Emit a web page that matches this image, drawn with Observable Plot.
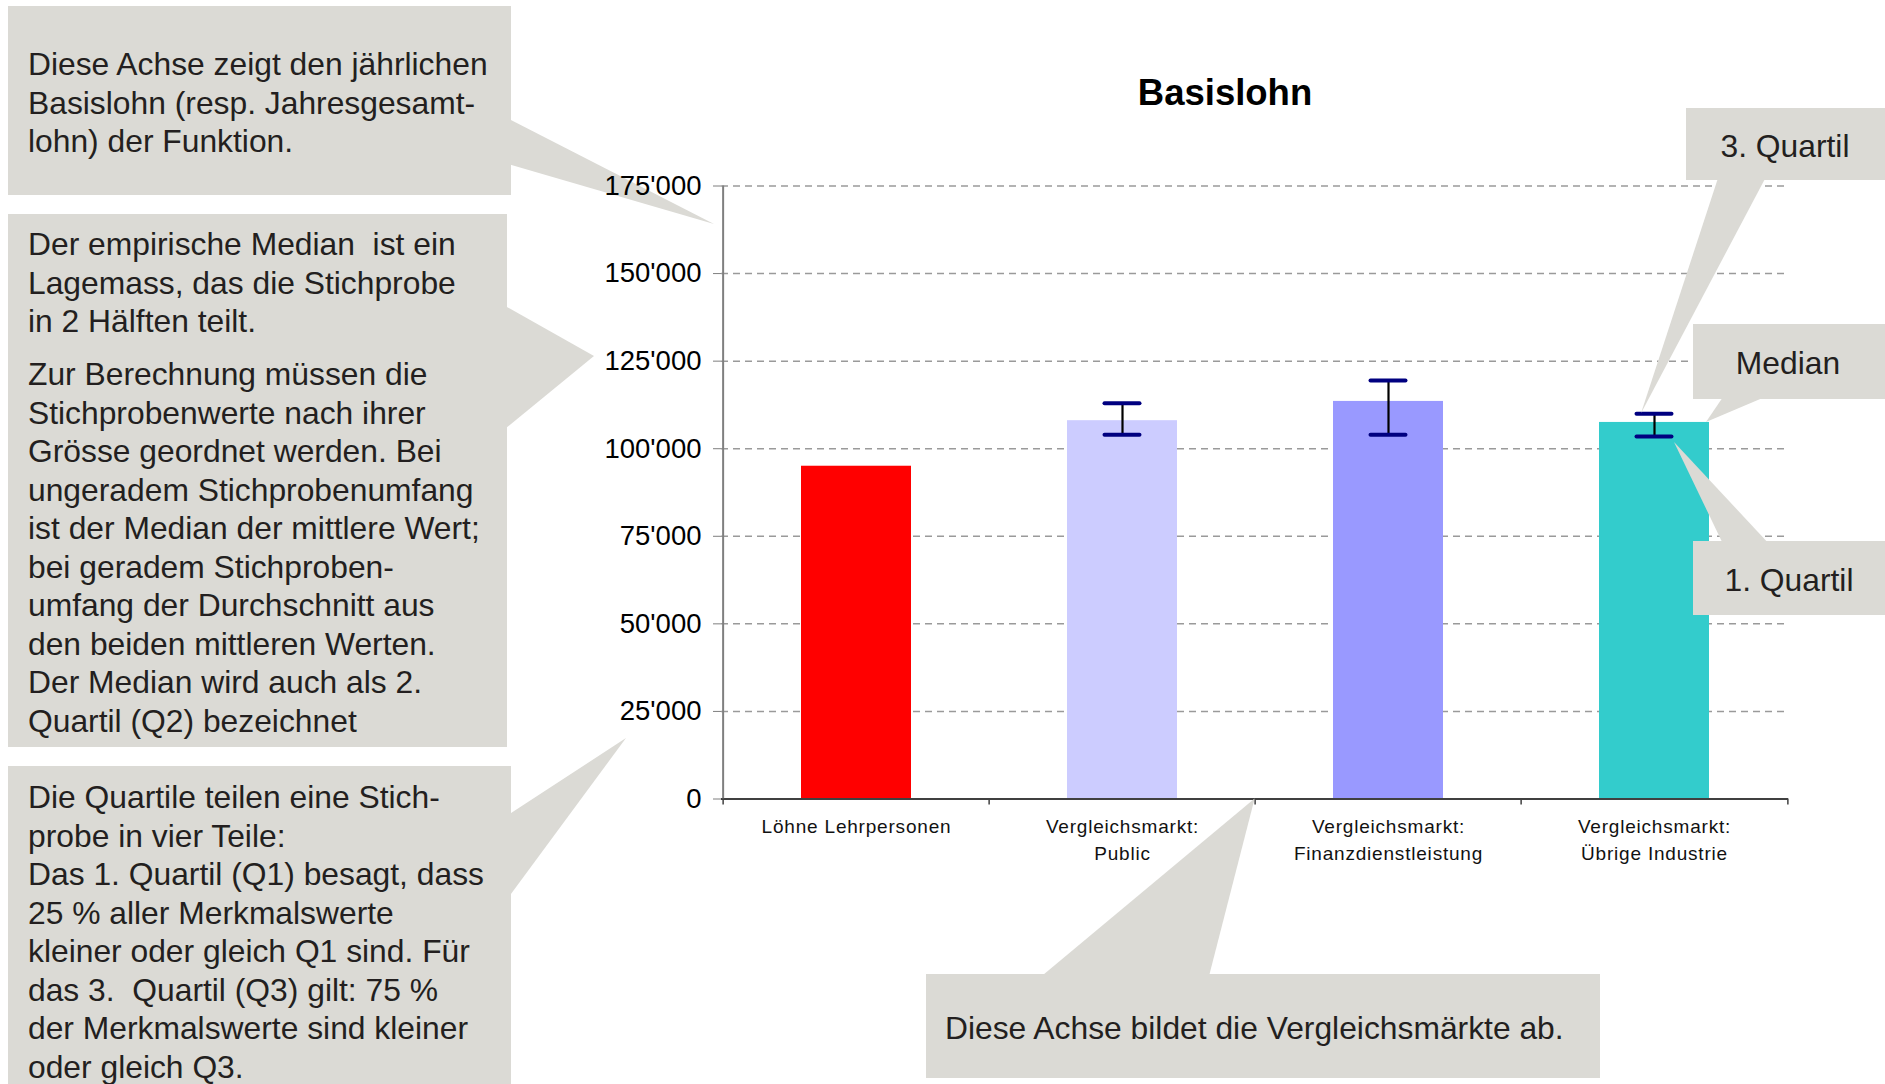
<!DOCTYPE html>
<html><head><meta charset="utf-8">
<script src="https://cdn.jsdelivr.net/npm/d3@7"></script>
<script src="https://cdn.jsdelivr.net/npm/@observablehq/plot@0.6"></script>
<style>
html,body{margin:0;padding:0;background:#fff;}
#chart{position:relative;width:1885px;height:1084px;overflow:hidden;}
svg{display:block;font-family:"Liberation Sans",Arial,sans-serif;}
g[aria-label="x-axis tick label"] text{letter-spacing:0.8px;}
</style></head><body><div id="chart"></div>
<script>
// ---- data ----
const categories = ["Löhne Lehrpersonen","Vergleichsmarkt: Public","Vergleichsmarkt: Finanzdienstleistung","Vergleichsmarkt: Übrige Industrie"];
const xTickLabels = ["Löhne Lehrpersonen","Vergleichsmarkt:\nPublic","Vergleichsmarkt:\nFinanzdienstleistung","Vergleichsmarkt:\nÜbrige Industrie"];
const medians = [95000, 108000, 113500, 107500];
const quartile1 = [null, 104000, 104000, 103500];
const quartile3 = [null, 113000, 119500, 110000];
const barColors = ["#ff0000","#ccccff","#9999ff","#33cccc"];
const yTicks = [0,25000,50000,75000,100000,125000,150000,175000];
const yTickLabels = ["0","25'000","50'000","75'000","100'000","125'000","150'000","175'000"];
const title = "Basislohn";

const noteAxisY = ["Diese Achse zeigt den jährlichen","Basislohn (resp. Jahresgesamt-","lohn) der Funktion."];
const noteMedian1 = ["Der empirische Median\u00a0 ist ein","Lagemass, das die Stichprobe","in 2 Hälften teilt."];
const noteMedian2 = ["Zur Berechnung müssen die","Stichprobenwerte nach ihrer","Grösse geordnet werden. Bei","ungeradem Stichprobenumfang","ist der Median der mittlere Wert;","bei geradem Stichproben-","umfang der Durchschnitt aus","den beiden mittleren Werten.","Der Median wird auch als 2.","Quartil (Q2) bezeichnet"];
const noteQuartile = ["Die Quartile teilen eine Stich-","probe in vier Teile:","Das 1. Quartil (Q1) besagt, dass","25 % aller Merkmalswerte","kleiner oder gleich Q1 sind. Für","das 3.\u00a0 Quartil (Q3) gilt: 75 %","der Merkmalswerte sind kleiner","oder gleich Q3."];
const noteAxisX = ["Diese Achse bildet die Vergleichsmärkte ab."];
const labelQ3 = "3. Quartil", labelMedian = "Median", labelQ1 = "1. Quartil";

// ---- layout ----
const W = 1885, H = 1084, mL = 721, mR = 97, mT = 185.5, mB = 285.5;
const step = (W - mL - mR) / categories.length;
const pInner = 0.588;
const capInset = 37.5;
const rows = categories.map((c, i) => ({cat: c, median: medians[i], q1: quartile1[i], q3: quartile3[i]}));
const qRows = rows.filter(d => d.q1 != null);
const FONT = '"Liberation Sans", Arial, sans-serif';

const plot = Plot.plot({
  width: W, height: H,
  marginLeft: mL, marginRight: mR, marginTop: mT, marginBottom: mB,
  style: {fontFamily: FONT, background: "transparent", overflow: "visible"},
  x: {domain: categories, paddingInner: pInner, paddingOuter: pInner / 2, label: null},
  y: {domain: [0, 175000], label: null},
  color: {domain: categories, range: barColors},
  marks: [
    Plot.gridY(yTicks.slice(1), {stroke: "#9a9a9a", strokeOpacity: 1, strokeWidth: 1.5, strokeDasharray: "7,5"}),
    Plot.barY(rows, {x: "cat", y: "median", fill: "cat"}),
    Plot.ruleX(qRows, {x: "cat", y1: "q1", y2: "q3", stroke: "#000", strokeWidth: 2.2}),
    Plot.tickY(qRows, {x: "cat", y: "q3", stroke: "#000080", strokeWidth: 4, strokeLinecap: "round", insetLeft: capInset, insetRight: capInset}),
    Plot.tickY(qRows, {x: "cat", y: "q1", stroke: "#000080", strokeWidth: 4, strokeLinecap: "round", insetLeft: capInset, insetRight: capInset}),
    Plot.ruleY([0], {stroke: "#404040", strokeWidth: 2}),
    Plot.ruleX([categories[0]], {dx: -step / 2, stroke: "#7f7f7f", strokeWidth: 2}),
    Plot.ruleX(categories, {x: d => d, dx: -step / 2, y1: 0, y2: 0, insetBottom: -6, stroke: "#404040", strokeWidth: 1.5}),
    Plot.ruleX([categories[categories.length - 1]], {x: d => d, dx: step / 2, y1: 0, y2: 0, insetBottom: -6, stroke: "#404040", strokeWidth: 1.5}),
    Plot.axisY({ticks: yTicks, tickFormat: d => yTickLabels[yTicks.indexOf(d)], tickSize: 8, tickPadding: 12, fontSize: 27.5, stroke: "#7f7f7f", fill: "#000", label: null}),
    Plot.axisX({tickSize: 0, tickPadding: 15, fontSize: 19, lineHeight: 27 / 19, fill: "#111", tickFormat: d => xTickLabels[categories.indexOf(d)], label: null}),
    Plot.text([title], {frameAnchor: "top", dx: -30, dy: -93, fontSize: 36.5, fontWeight: "bold", lineAnchor: "middle", fill: "#000"})
  ]
});
document.getElementById("chart").appendChild(plot);

// ---- callout annotations ----
const svg = d3.select(plot);
const xs = plot.scale("x"), ys = plot.scale("y");
const bw = xs.bandwidth;
const cx = c => xs.apply(c) + bw / 2;
const last = categories[3];
const BOX = "#dbdad5", TXT = "#231f20", FS = 31.8, LH = 38.5;

const callouts = [
  {box: [8, 6, 511, 195], ptr: [[505, 117], [505, 163], [714, 224]],
   text: [{lines: noteAxisY, x: 28, y: 75}]},
  {box: [8, 214, 507, 747], ptr: [[500, 303], [500, 433], [594, 356]],
   text: [{lines: noteMedian1, x: 28, y: 255}, {lines: noteMedian2, x: 28, y: 385}]},
  {box: [8, 766, 511, 1090], ptr: [[505, 817], [505, 902], [626, 738]],
   text: [{lines: noteQuartile, x: 28, y: 808}]},
  {box: [926, 974, 1600, 1078], ptr: [[1037, 980], [1208, 980], [cx(categories[2]) - step / 2, ys.apply(0)]],
   text: [{lines: noteAxisX, x: 945, y: 1039}]},
  {box: [1686, 108, 1890, 180], ptr: [[1719, 175], [1767, 175], [cx(last) - 13, ys.apply(quartile3[3])]],
   text: [{lines: [labelQ3], x: 1785, y: 156.5, anchor: "middle"}]},
  {box: [1693, 324, 1890, 399], ptr: [[1725, 394], [1772, 394], [cx(last) + bw / 2 - 3, ys.apply(medians[3])]],
   text: [{lines: [labelMedian], x: 1788, y: 374, anchor: "middle"}]},
  {box: [1693, 541, 1890, 615], ptr: [[1724, 546], [1771, 546], [cx(last) + 20, ys.apply(quartile1[3]) + 6]],
   text: [{lines: [labelQ1], x: 1789, y: 590.5, anchor: "middle"}]}
];

const layer = svg.append("g").attr("class", "callouts");
for (const c of callouts) {
  const g = layer.append("g");
  g.append("polygon").attr("points", c.ptr.map(p => p.join(",")).join(" ")).attr("fill", BOX);
  g.append("rect").attr("x", c.box[0]).attr("y", c.box[1]).attr("width", c.box[2] - c.box[0]).attr("height", c.box[3] - c.box[1]).attr("fill", BOX);
  for (const t of c.text) {
    t.lines.forEach((line, i) => {
      g.append("text").attr("x", t.x).attr("y", t.y + i * LH)
        .attr("text-anchor", t.anchor || "start")
        .attr("font-family", FONT).attr("font-size", FS).attr("fill", TXT)
        .attr("xml:space", "preserve").style("white-space", "pre")
        .text(line);
    });
  }
}
svg.select('g[aria-label="y-axis tick label"]').raise();
</script>
</body></html>
